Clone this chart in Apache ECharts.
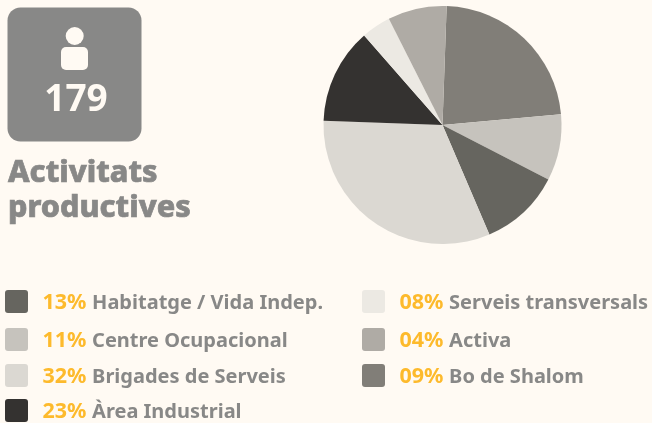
<!DOCTYPE html>
<html>
<head>
<meta charset="utf-8">
<style>html,body{margin:0;padding:0;background:#fffaf3}#c{width:652px;height:423px}</style>
<script src="https://cdn.jsdelivr.net/npm/echarts@6/dist/echarts.min.js"></script>
</head>
<body>
<div id="c"></div>
<script>
const total = '179';
const titleLines = ['Activitats', 'productives'];
const sliceValues = [23, 9, 11, 32, 13, 4, 8];
const sliceColors = ['#817e78', '#c6c3bd', '#66655f', '#dbd8d2', '#343230', '#ece9e3', '#afaba5'];
const legendPercents = ['13%', '11%', '32%', '23%', '08%', '04%', '09%'];
const legendNames = ['Habitatge / Vida Indep.', 'Centre Ocupacional', 'Brigades de Serveis', 'Àrea Industrial', 'Serveis transversals', 'Activa', 'Bo de Shalom'];
const legendColors = ['#66655f', '#c6c3bd', '#dbd8d2', '#343230', '#ece9e3', '#afaba5', '#817e78'];

const FONT = '"Noto Sans"';
const GREY = '#888887';
const BG = '#fffaf3';
const AMBER = '#fdba2c';
const rowY = [290, 328, 364, 399, 290, 328, 364];
const colX = [5, 5, 5, 5, 362, 362, 362];

const graphics = [
  {type: 'rect', shape: {x: 7.5, y: 7.5, width: 134, height: 134, r: 13}, style: {fill: GREY}},
  {type: 'circle', shape: {cx: 74.7, cy: 36, r: 9}, style: {fill: BG}},
  {type: 'rect', shape: {x: 61, y: 47, width: 27, height: 23, r: 5}, style: {fill: BG}},
  {type: 'text', x: 76, y: 100, style: {text: total, font: '700 37px ' + FONT, fill: BG, align: 'center', verticalAlign: 'middle'}},
  {type: 'text', x: 8, y: 173.5, style: {text: titleLines[0], font: '800 30.5px ' + FONT, fill: GREY, stroke: GREY, lineWidth: 0.7, verticalAlign: 'middle'}},
  {type: 'text', x: 8, y: 208.5, style: {text: titleLines[1], font: '800 30.5px ' + FONT, fill: GREY, stroke: GREY, lineWidth: 0.7, verticalAlign: 'middle'}}
];
legendNames.forEach((name, i) => {
  graphics.push({type: 'rect', shape: {x: colX[i], y: rowY[i], width: 23, height: 23, r: 3}, style: {fill: legendColors[i]}});
  graphics.push({type: 'text', x: colX[i] + 37.5, y: rowY[i] + 13, style: {
    text: '{p|' + legendPercents[i] + ' }{n|' + name + '}',
    verticalAlign: 'middle',
    rich: {
      p: {font: '700 21.5px ' + FONT, fill: AMBER},
      n: {font: '700 20px ' + FONT, fill: GREY}
    }
  }});
});

const chart = echarts.init(document.getElementById('c'), null, {renderer: 'canvas'});
chart.setOption({
  backgroundColor: BG,
  animation: false,
  graphic: graphics,
  series: [{
    type: 'pie',
    center: [442.5, 125],
    radius: [0, 119],
    startAngle: 88,
    clockwise: true,
    silent: true,
    label: {show: false},
    labelLine: {show: false},
    data: sliceValues.map((v, i) => ({value: v, itemStyle: {color: sliceColors[i]}}))
  }]
});
</script>
</body>
</html>
